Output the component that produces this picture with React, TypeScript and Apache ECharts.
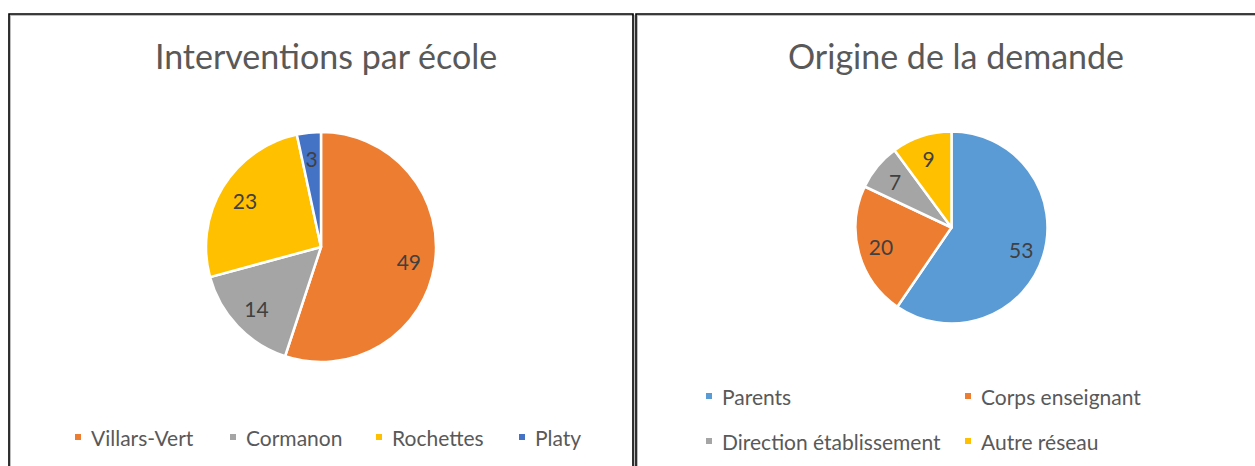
import React, { useEffect, useRef } from "react";
import * as echarts from "echarts";

const schools = ["Villars-Vert", "Cormanon", "Rochettes", "Platy"];
const schoolValues = [49, 14, 23, 3];
const schoolColors = ["#ED7D31", "#A5A5A5", "#FFC000", "#4472C4"];

const origins = ["Parents", "Corps enseignant", "Direction établissement", "Autre réseau"];
const originValues = [53, 20, 7, 9];
const originColors = ["#5B9BD5", "#ED7D31", "#A5A5A5", "#FFC000"];

const leftLegendPos = [
  [73, 437],
  [228, 437],
  [374, 437],
  [517, 437],
];
const rightLegendPos = [
  [704, 396],
  [963, 396],
  [704, 441],
  [963, 441],
];

const FONT = "Lato, 'Open Sans', sans-serif";

export default function App() {
  const ref = useRef<HTMLDivElement>(null);
  useEffect(() => {
    const chart = echarts.init(ref.current!, null, { renderer: "svg" });
    const mk = (names: string[], vals: number[], colors: string[]) =>
      names.map((n, i) => ({ name: n, value: vals[i], itemStyle: { color: colors[i] } }));
    const mkOverlay = (names: string[], vals: number[]) =>
      names.map((n, i) => ({ name: n, value: vals[i] }));

    const legends: any[] = [];
    const addLegends = (names: string[], colors: string[], pos: number[][]) => {
      names.forEach((n, i) => {
        legends.push({
          left: pos[i][0],
          top: pos[i][1] - 12,
          height: 24,
          padding: 0,
          icon: "rect",
          itemWidth: 8,
          itemHeight: 8,
          selectedMode: false,
          data: [{ name: n, itemStyle: { color: colors[i] } }],
          textStyle: {
            color: "#595959",
            fontSize: 21,
            fontFamily: FONT,
            padding: [0, 0, 0, 4],
            lineHeight: 24,
          },
        });
      });
    };
    addLegends(schools, schoolColors, leftLegendPos);
    addLegends(origins, originColors, rightLegendPos);

    const labelStyle = {
      show: true,
      position: "inside",
      rotate: 0,
      color: "#404040",
      fontSize: 21,
      fontFamily: FONT,
      formatter: "{c}",
    };

    const titleStyle = { color: "#595959", fontSize: 34, fontWeight: "normal", fontFamily: FONT };

    chart.setOption({
      animation: false,
      title: [
        {
          text: "Interventions par école",
          left: 321,
          top: 50,
          textAlign: "center",
          textVerticalAlign: "middle",
          textStyle: titleStyle,
        },
        {
          text: "Origine de la demande",
          left: 951,
          top: 50,
          textAlign: "center",
          textVerticalAlign: "middle",
          textStyle: titleStyle,
        },
      ],
      legend: legends,
      graphic: [
        { type: "rect", shape: { x: 10.2, y: 15.2, width: 624, height: 480 }, style: { fill: "none", stroke: "#a0a0a0", lineWidth: 1 } },
        { type: "rect", shape: { x: 9, y: 14, width: 624, height: 480 }, style: { fill: "none", stroke: "#000", lineWidth: 1.6 } },
        { type: "rect", shape: { x: 637.2, y: 15.2, width: 700, height: 480 }, style: { fill: "none", stroke: "#a0a0a0", lineWidth: 1 } },
        { type: "rect", shape: { x: 636, y: 14, width: 700, height: 480 }, style: { fill: "none", stroke: "#000", lineWidth: 1.6 } },
      ],
      series: [
        {
          type: "pie",
          center: [321, 247],
          radius: [0, 115],
          startAngle: 90,
          clockwise: true,
          silent: true,
          label: { show: false },
          labelLine: { show: false },
          itemStyle: { borderColor: "#fff", borderWidth: 2.5 },
          emphasis: { disabled: true },
          data: mk(schools, schoolValues, schoolColors),
        },
        {
          type: "pie",
          center: [321, 247],
          radius: [57, 115],
          startAngle: 90,
          clockwise: true,
          silent: true,
          label: labelStyle,
          labelLine: { show: false },
          itemStyle: { color: "rgba(0,0,0,0)", borderWidth: 0 },
          emphasis: { disabled: true },
          data: mkOverlay(schools, schoolValues),
        },
        {
          type: "pie",
          center: [951.5, 227.5],
          radius: [0, 96],
          startAngle: 90,
          clockwise: true,
          silent: true,
          label: { show: false },
          labelLine: { show: false },
          itemStyle: { borderColor: "#fff", borderWidth: 2.5 },
          emphasis: { disabled: true },
          data: mk(origins, originValues, originColors),
        },
        {
          type: "pie",
          center: [951.5, 227.5],
          radius: [44, 96],
          startAngle: 90,
          clockwise: true,
          silent: true,
          label: labelStyle,
          labelLine: { show: false },
          itemStyle: { color: "rgba(0,0,0,0)", borderWidth: 0 },
          emphasis: { disabled: true },
          data: mkOverlay(origins, originValues),
        },
      ],
    });
    return () => chart.dispose();
  }, []);
  return (
    <div
      ref={ref}
      style={{ position: "fixed", left: 0, top: 0, width: 1255, height: 466, background: "#fff" }}
    />
  );
}
